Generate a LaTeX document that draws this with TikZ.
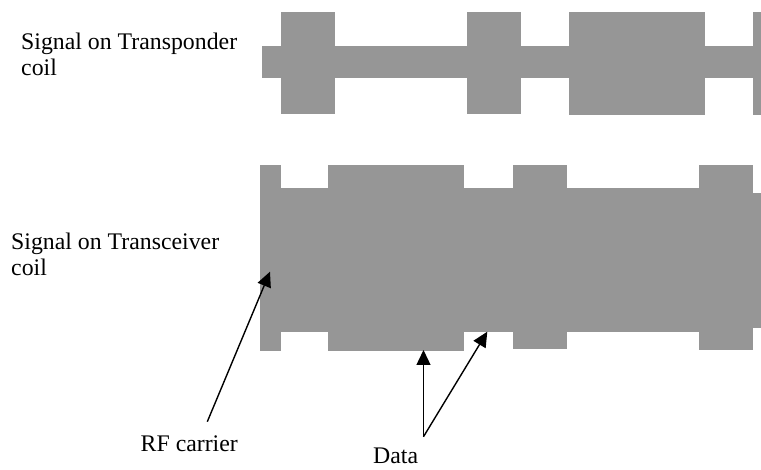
\documentclass[tikz,border=0pt]{standalone}
\usepackage{fontspec}
\setmainfont{Liberation Serif}
\usetikzlibrary{arrows.meta}
\definecolor{sig}{RGB}{150,150,150}
\tikzset{
  sigfill/.style={fill=sig,draw=none},
  lbl/.style={inner sep=0pt,anchor=base west,font=\fontsize{23.8}{26}\selectfont},
  pointer/.style={draw=black,line width=1.4pt,-{Triangle[length=15pt,width=14pt]}}
}
\begin{document}
\begin{tikzpicture}[x=1pt,y=-1pt]
\useasboundingbox (0,0) rectangle (761,470);
% transponder signal
\fill[sigfill] (262,46.5) rectangle (761,78.5);
\fill[sigfill] (280.7,12) rectangle (334.7,114.5);
\fill[sigfill] (466.7,12) rectangle (520.7,114.5);
\fill[sigfill] (569,12) rectangle (705.3,114.8);
\fill[sigfill] (752.7,12) rectangle (761,114.8);
% transceiver signal
\fill[sigfill] (260,187.7) rectangle (752.7,332.3);
\fill[sigfill] (752.7,192.7) rectangle (761,328.3);
\fill[sigfill] (260,165) rectangle (280.7,350.7);
\fill[sigfill] (328,165) rectangle (464.3,350.7);
\fill[sigfill] (513,165) rectangle (566.7,349.5);
\fill[sigfill] (698.7,165) rectangle (752.7,349.7);
% labels
\node[lbl] (tp1) at (21,50) {Signal on Transponder};
\node[lbl] (tp2) at (21,76) {coil};
\node[lbl] (tc1) at (11,250) {Signal on Transceiver};
\node[lbl] (tc2) at (11,275.5) {coil};
\node[lbl] (rf) at (140.5,451.5) {RF carrier};
\node[lbl] (data) at (373,464) {Data};
% arrow ends
\coordinate (rfs) at (207.3,421.7);
\coordinate (rft) at (270,271.7);
\coordinate (ds) at (423.5,436.7);
\coordinate (dt1) at (423.5,350);
\coordinate (dt2) at (487.3,331.7);
\draw[pointer] (rfs) -- (rft);
\draw[pointer] (ds) -- (dt1);
\draw[pointer] (ds) -- (dt2);
\end{tikzpicture}
\end{document}
